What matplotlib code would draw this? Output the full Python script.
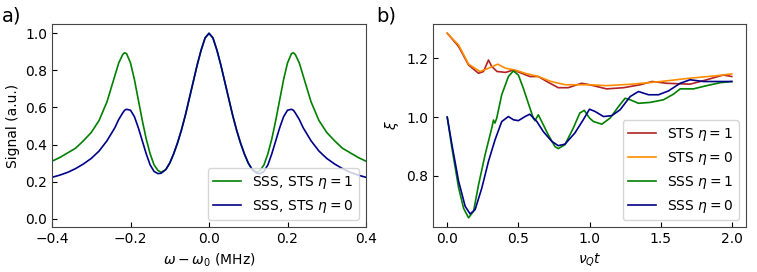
import matplotlib.pyplot as plt

# ---- panel a) : spectra (left half read off, right half mirrored as in the figure) ----
half_freq = [-0.40, -0.38, -0.36, -0.34, -0.32, -0.30, -0.28, -0.26, -0.25, -0.24,
             -0.23, -0.22, -0.215, -0.21, -0.20, -0.19, -0.18, -0.17, -0.16, -0.15,
             -0.14, -0.13, -0.122, -0.11, -0.10, -0.09, -0.08, -0.07, -0.06, -0.05,
             -0.04, -0.03, -0.02, -0.01]
half_eta1 = [0.31, 0.33, 0.355, 0.38, 0.42, 0.465, 0.53, 0.63, 0.70, 0.77,
             0.84, 0.885, 0.895, 0.89, 0.84, 0.75, 0.64, 0.53, 0.43, 0.35,
             0.29, 0.26, 0.25, 0.265, 0.30, 0.35, 0.41, 0.48, 0.56, 0.65,
             0.74, 0.83, 0.91, 0.975]
half_eta0 = [0.223, 0.235, 0.25, 0.27, 0.295, 0.325, 0.365, 0.42, 0.455, 0.49,
             0.535, 0.57, 0.585, 0.59, 0.585, 0.55, 0.49, 0.42, 0.35, 0.29,
             0.255, 0.243, 0.245, 0.265, 0.30, 0.35, 0.41, 0.48, 0.56, 0.65,
             0.74, 0.83, 0.91, 0.975]
peak = 1.0

freq = half_freq + [0.0] + [-f for f in half_freq[::-1]]
sig_eta1 = half_eta1 + [peak] + half_eta1[::-1]
sig_eta0 = half_eta0 + [peak] + half_eta0[::-1]

# ---- panel b) : squeezing vs time ----
t_sts1 = [0.0, 0.08, 0.15, 0.22, 0.255, 0.29, 0.313, 0.35, 0.41, 0.465, 0.523, 0.58,
          0.64, 0.70, 0.78, 0.85, 0.944, 1.0, 1.12, 1.24, 1.356, 1.44, 1.543, 1.707,
          1.824, 1.94, 2.0]
xi_sts1 = [1.285, 1.24, 1.177, 1.149, 1.155, 1.194, 1.172, 1.155, 1.152, 1.16, 1.149, 1.138,
           1.138, 1.121, 1.10, 1.10, 1.115, 1.11, 1.096, 1.10, 1.11, 1.121, 1.115, 1.112,
           1.127, 1.143, 1.138]

t_sts0 = [0.0, 0.08, 0.15, 0.23, 0.29, 0.355, 0.41, 0.477, 0.547, 0.64, 0.73, 0.83,
          0.944, 1.0, 1.12, 1.3, 1.5, 1.7, 1.9, 2.0]
xi_sts0 = [1.285, 1.245, 1.18, 1.155, 1.166, 1.18, 1.166, 1.16, 1.149, 1.138, 1.121, 1.11,
           1.11, 1.11, 1.107, 1.112, 1.121, 1.132, 1.141, 1.147]

t_sss1 = [0.0, 0.033, 0.08, 0.115, 0.15, 0.185, 0.22, 0.266, 0.313, 0.325, 0.336, 0.348,
          0.383, 0.43, 0.465, 0.5, 0.535, 0.57, 0.605, 0.617, 0.64, 0.664, 0.71, 0.757,
          0.78, 0.827, 0.886, 0.932, 0.963, 1.0, 1.028, 1.087, 1.145, 1.204, 1.25, 1.286,
          1.344, 1.426, 1.52, 1.59, 1.637, 1.73, 1.824, 1.918, 2.0]
xi_sss1 = [1.0, 0.895, 0.76, 0.69, 0.658, 0.68, 0.77, 0.872, 0.963, 0.99, 0.98, 0.997,
           1.076, 1.138, 1.157, 1.143, 1.098, 1.047, 0.997, 0.988, 1.008, 0.985, 0.94, 0.90,
           0.893, 0.906, 0.963, 1.014, 1.023, 0.997, 0.985, 0.976, 0.997, 1.036, 1.064, 1.059,
           1.047, 1.05, 1.059, 1.078, 1.096, 1.096, 1.107, 1.117, 1.121]

t_sss0 = [0.0, 0.033, 0.08, 0.126, 0.161, 0.196, 0.243, 0.29, 0.336, 0.383, 0.43, 0.465,
          0.5, 0.547, 0.58, 0.63, 0.675, 0.734, 0.78, 0.827, 0.897, 0.956, 1.0, 1.04,
          1.098, 1.157, 1.215, 1.286, 1.344, 1.415, 1.485, 1.555, 1.637, 1.707, 1.8,
          1.894, 2.0]
xi_sss0 = [1.0, 0.906, 0.782, 0.697, 0.671, 0.686, 0.759, 0.85, 0.923, 0.985, 1.002, 0.991,
           0.988, 1.002, 1.01, 0.985, 0.951, 0.918, 0.903, 0.908, 0.946, 0.991, 1.027, 1.019,
           1.002, 1.005, 1.025, 1.07, 1.087, 1.076, 1.076, 1.089, 1.115, 1.127, 1.121,
           1.121, 1.121]

GREEN = "green"
BLUE = "darkblue"
RED = "#b22222"
ORANGE = "darkorange"

fig = plt.figure(figsize=(7.57, 2.72), dpi=100)
ax1 = fig.add_axes([0.0687, 0.1654, 0.4148, 0.7463])
ax2 = fig.add_axes([0.572, 0.1654, 0.4135, 0.7463])

ax1.plot(freq, sig_eta1, color=GREEN, lw=1.2, label=r"SSS, STS $\eta = 1$")
ax1.plot(freq, sig_eta0, color=BLUE, lw=1.2, label=r"SSS, STS $\eta = 0$")
ax1.set_xlim(-0.4, 0.4)
ax1.set_ylim(-0.045, 1.05)
ax1.set_xticks([-0.4, -0.2, 0.0, 0.2, 0.4])
ax1.set_yticks([0.0, 0.2, 0.4, 0.6, 0.8, 1.0])
ax1.set_xlabel(r"$\omega - \omega_0$ (MHz)", fontsize=10)
ax1.set_ylabel("Signal (a.u.)", fontsize=10)
ax1.legend(loc="lower right", fontsize=10)

ax2.plot(t_sts1, xi_sts1, color=RED, lw=1.2, label=r"STS $\eta = 1$")
ax2.plot(t_sts0, xi_sts0, color=ORANGE, lw=1.2, label=r"STS $\eta = 0$")
ax2.plot(t_sss1, xi_sss1, color=GREEN, lw=1.2, label=r"SSS $\eta = 1$")
ax2.plot(t_sss0, xi_sss0, color=BLUE, lw=1.2, label=r"SSS $\eta = 0$")
ax2.set_xticks([0.0, 0.5, 1.0, 1.5, 2.0])
ax2.set_yticks([0.8, 1.0, 1.2])
ax2.set_xlabel(r"$\nu_Q t$", fontsize=10)
ax2.set_ylabel(r"$\xi$", fontsize=10)
ax2.legend(loc="lower right", fontsize=10)

for ax in (ax1, ax2):
    ax.tick_params(direction="in", labelsize=10)
    for sp in ax.spines.values():
        sp.set_color("#444444")

fig.text(0.002, 0.975, "a)", fontsize=14, va="top")
fig.text(0.497, 0.975, "b)", fontsize=14, va="top")

fig.savefig("out.png", dpi=100)
